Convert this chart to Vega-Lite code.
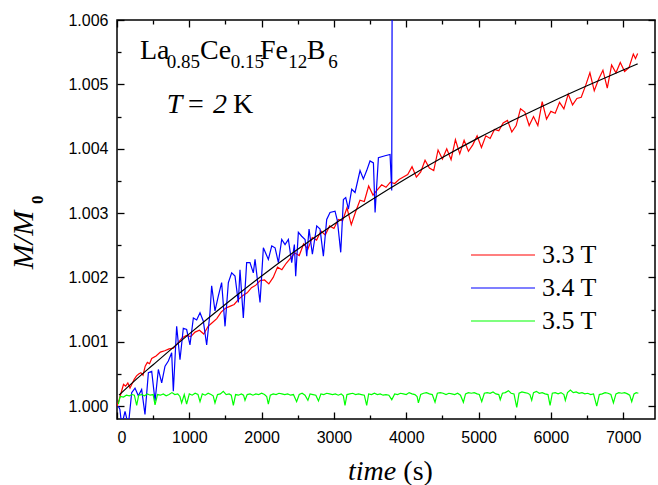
{
  "$schema": "https://vega.github.io/schema/vega-lite/v6.json",
  "width": 538,
  "height": 399,
  "autosize": {"type": "none"},
  "padding": {"left": 117, "top": 20, "right": 3, "bottom": 66},
  "background": "white",
  "config": {
    "view": {"stroke": "black", "strokeWidth": 1.5},
    "axis": {"domain": false, "grid": false}
  },
  "datasets": {
    "meas": [
      {"t":0,"M":1.00000,"s":"3.3 T"},{"t":30,"M":1.00010,"s":"3.3 T"},{"t":60,"M":1.00022,"s":"3.3 T"},{"t":90,"M":1.00034,"s":"3.3 T"},{"t":120,"M":1.00031,"s":"3.3 T"},{"t":150,"M":1.00036,"s":"3.3 T"},{"t":180,"M":1.00028,"s":"3.3 T"},{"t":210,"M":1.00035,"s":"3.3 T"},{"t":240,"M":1.00042,"s":"3.3 T"},{"t":270,"M":1.00047,"s":"3.3 T"},{"t":300,"M":1.00050,"s":"3.3 T"},{"t":330,"M":1.00052,"s":"3.3 T"},{"t":360,"M":1.00048,"s":"3.3 T"},{"t":390,"M":1.00062,"s":"3.3 T"},{"t":420,"M":1.00068,"s":"3.3 T"},{"t":450,"M":1.00066,"s":"3.3 T"},{"t":480,"M":1.00074,"s":"3.3 T"},{"t":540,"M":1.00078,"s":"3.3 T"},{"t":600,"M":1.00084,"s":"3.3 T"},{"t":660,"M":1.00086,"s":"3.3 T"},{"t":720,"M":1.00089,"s":"3.3 T"},{"t":780,"M":1.00090,"s":"3.3 T"},{"t":840,"M":1.00098,"s":"3.3 T"},{"t":900,"M":1.00106,"s":"3.3 T"},{"t":960,"M":1.00110,"s":"3.3 T"},{"t":1020,"M":1.00108,"s":"3.3 T"},{"t":1080,"M":1.00115,"s":"3.3 T"},{"t":1140,"M":1.00118,"s":"3.3 T"},{"t":1200,"M":1.00112,"s":"3.3 T"},{"t":1260,"M":1.00124,"s":"3.3 T"},{"t":1320,"M":1.00130,"s":"3.3 T"},{"t":1380,"M":1.00136,"s":"3.3 T"},{"t":1440,"M":1.00146,"s":"3.3 T"},{"t":1500,"M":1.00152,"s":"3.3 T"},{"t":1560,"M":1.00155,"s":"3.3 T"},{"t":1620,"M":1.00158,"s":"3.3 T"},{"t":1680,"M":1.00166,"s":"3.3 T"},{"t":1740,"M":1.00172,"s":"3.3 T"},{"t":1800,"M":1.00176,"s":"3.3 T"},{"t":1860,"M":1.00184,"s":"3.3 T"},{"t":1920,"M":1.00188,"s":"3.3 T"},{"t":1980,"M":1.00195,"s":"3.3 T"},{"t":2040,"M":1.00196,"s":"3.3 T"},{"t":2100,"M":1.00190,"s":"3.3 T"},{"t":2160,"M":1.00200,"s":"3.3 T"},{"t":2220,"M":1.00216,"s":"3.3 T"},{"t":2280,"M":1.00212,"s":"3.3 T"},{"t":2340,"M":1.00222,"s":"3.3 T"},{"t":2400,"M":1.00230,"s":"3.3 T"},{"t":2460,"M":1.00238,"s":"3.3 T"},{"t":2520,"M":1.00234,"s":"3.3 T"},{"t":2580,"M":1.00252,"s":"3.3 T"},{"t":2640,"M":1.00244,"s":"3.3 T"},{"t":2700,"M":1.00262,"s":"3.3 T"},{"t":2760,"M":1.00258,"s":"3.3 T"},{"t":2820,"M":1.00272,"s":"3.3 T"},{"t":2880,"M":1.00266,"s":"3.3 T"},{"t":2940,"M":1.00280,"s":"3.3 T"},{"t":3000,"M":1.00276,"s":"3.3 T"},{"t":3060,"M":1.00290,"s":"3.3 T"},{"t":3120,"M":1.00288,"s":"3.3 T"},{"t":3180,"M":1.00308,"s":"3.3 T"},{"t":3240,"M":1.00282,"s":"3.3 T"},{"t":3300,"M":1.00302,"s":"3.3 T"},{"t":3360,"M":1.00320,"s":"3.3 T"},{"t":3420,"M":1.00318,"s":"3.3 T"},{"t":3480,"M":1.00342,"s":"3.3 T"},{"t":3540,"M":1.00328,"s":"3.3 T"},{"t":3600,"M":1.00336,"s":"3.3 T"},{"t":3660,"M":1.00344,"s":"3.3 T"},{"t":3720,"M":1.00340,"s":"3.3 T"},{"t":3780,"M":1.00348,"s":"3.3 T"},{"t":3840,"M":1.00346,"s":"3.3 T"},{"t":3900,"M":1.00352,"s":"3.3 T"},{"t":3960,"M":1.00356,"s":"3.3 T"},{"t":4020,"M":1.00360,"s":"3.3 T"},{"t":4080,"M":1.00372,"s":"3.3 T"},{"t":4140,"M":1.00356,"s":"3.3 T"},{"t":4200,"M":1.00364,"s":"3.3 T"},{"t":4260,"M":1.00382,"s":"3.3 T"},{"t":4320,"M":1.00370,"s":"3.3 T"},{"t":4380,"M":1.00366,"s":"3.3 T"},{"t":4440,"M":1.00398,"s":"3.3 T"},{"t":4500,"M":1.00384,"s":"3.3 T"},{"t":4560,"M":1.00400,"s":"3.3 T"},{"t":4620,"M":1.00383,"s":"3.3 T"},{"t":4680,"M":1.00414,"s":"3.3 T"},{"t":4740,"M":1.00392,"s":"3.3 T"},{"t":4800,"M":1.00413,"s":"3.3 T"},{"t":4860,"M":1.00396,"s":"3.3 T"},{"t":4920,"M":1.00406,"s":"3.3 T"},{"t":4980,"M":1.00420,"s":"3.3 T"},{"t":5040,"M":1.00402,"s":"3.3 T"},{"t":5100,"M":1.00420,"s":"3.3 T"},{"t":5160,"M":1.00416,"s":"3.3 T"},{"t":5220,"M":1.00430,"s":"3.3 T"},{"t":5280,"M":1.00428,"s":"3.3 T"},{"t":5340,"M":1.00440,"s":"3.3 T"},{"t":5400,"M":1.00444,"s":"3.3 T"},{"t":5460,"M":1.00426,"s":"3.3 T"},{"t":5520,"M":1.00436,"s":"3.3 T"},{"t":5580,"M":1.00462,"s":"3.3 T"},{"t":5640,"M":1.00457,"s":"3.3 T"},{"t":5700,"M":1.00436,"s":"3.3 T"},{"t":5760,"M":1.00450,"s":"3.3 T"},{"t":5820,"M":1.00436,"s":"3.3 T"},{"t":5880,"M":1.00473,"s":"3.3 T"},{"t":5940,"M":1.00446,"s":"3.3 T"},{"t":6000,"M":1.00458,"s":"3.3 T"},{"t":6060,"M":1.00455,"s":"3.3 T"},{"t":6120,"M":1.00472,"s":"3.3 T"},{"t":6180,"M":1.00462,"s":"3.3 T"},{"t":6240,"M":1.00485,"s":"3.3 T"},{"t":6300,"M":1.00468,"s":"3.3 T"},{"t":6360,"M":1.00478,"s":"3.3 T"},{"t":6420,"M":1.00480,"s":"3.3 T"},{"t":6480,"M":1.00498,"s":"3.3 T"},{"t":6540,"M":1.00518,"s":"3.3 T"},{"t":6600,"M":1.00490,"s":"3.3 T"},{"t":6660,"M":1.00508,"s":"3.3 T"},{"t":6720,"M":1.00522,"s":"3.3 T"},{"t":6780,"M":1.00494,"s":"3.3 T"},{"t":6840,"M":1.00530,"s":"3.3 T"},{"t":6900,"M":1.00518,"s":"3.3 T"},{"t":6960,"M":1.00534,"s":"3.3 T"},{"t":7020,"M":1.00520,"s":"3.3 T"},{"t":7080,"M":1.00526,"s":"3.3 T"},{"t":7140,"M":1.00547,"s":"3.3 T"},{"t":7170,"M":1.00540,"s":"3.3 T"},{"t":7200,"M":1.00548,"s":"3.3 T"},
      {"t":18,"M":1.00000,"s":"3.4 T"},{"t":40,"M":0.99995,"s":"3.4 T"},{"t":65,"M":0.99970,"s":"3.4 T"},{"t":111,"M":0.99992,"s":"3.4 T"},{"t":157,"M":0.99970,"s":"3.4 T"},{"t":203,"M":1.00021,"s":"3.4 T"},{"t":249,"M":1.00028,"s":"3.4 T"},{"t":295,"M":1.00016,"s":"3.4 T"},{"t":341,"M":1.00026,"s":"3.4 T"},{"t":387,"M":0.99987,"s":"3.4 T"},{"t":434,"M":1.00052,"s":"3.4 T"},{"t":480,"M":1.00054,"s":"3.4 T"},{"t":526,"M":1.00008,"s":"3.4 T"},{"t":572,"M":1.00057,"s":"3.4 T"},{"t":618,"M":1.00036,"s":"3.4 T"},{"t":664,"M":1.00062,"s":"3.4 T"},{"t":710,"M":1.00070,"s":"3.4 T"},{"t":756,"M":1.00083,"s":"3.4 T"},{"t":779,"M":1.00023,"s":"3.4 T"},{"t":825,"M":1.00124,"s":"3.4 T"},{"t":871,"M":1.00072,"s":"3.4 T"},{"t":917,"M":1.00121,"s":"3.4 T"},{"t":963,"M":1.00119,"s":"3.4 T"},{"t":1009,"M":1.00095,"s":"3.4 T"},{"t":1056,"M":1.00137,"s":"3.4 T"},{"t":1102,"M":1.00134,"s":"3.4 T"},{"t":1148,"M":1.00145,"s":"3.4 T"},{"t":1194,"M":1.00132,"s":"3.4 T"},{"t":1240,"M":1.00095,"s":"3.4 T"},{"t":1286,"M":1.00145,"s":"3.4 T"},{"t":1309,"M":1.00187,"s":"3.4 T"},{"t":1355,"M":1.00148,"s":"3.4 T"},{"t":1401,"M":1.00171,"s":"3.4 T"},{"t":1447,"M":1.00192,"s":"3.4 T"},{"t":1494,"M":1.00124,"s":"3.4 T"},{"t":1540,"M":1.00192,"s":"3.4 T"},{"t":1586,"M":1.00207,"s":"3.4 T"},{"t":1632,"M":1.00202,"s":"3.4 T"},{"t":1678,"M":1.00161,"s":"3.4 T"},{"t":1701,"M":1.00212,"s":"3.4 T"},{"t":1747,"M":1.00137,"s":"3.4 T"},{"t":1793,"M":1.00223,"s":"3.4 T"},{"t":1839,"M":1.00223,"s":"3.4 T"},{"t":1885,"M":1.00207,"s":"3.4 T"},{"t":1909,"M":1.00228,"s":"3.4 T"},{"t":1978,"M":1.00161,"s":"3.4 T"},{"t":2024,"M":1.00246,"s":"3.4 T"},{"t":2093,"M":1.00228,"s":"3.4 T"},{"t":2140,"M":1.00249,"s":"3.4 T"},{"t":2186,"M":1.00246,"s":"3.4 T"},{"t":2232,"M":1.00223,"s":"3.4 T"},{"t":2278,"M":1.00259,"s":"3.4 T"},{"t":2324,"M":1.00251,"s":"3.4 T"},{"t":2370,"M":1.00259,"s":"3.4 T"},{"t":2416,"M":1.00223,"s":"3.4 T"},{"t":2453,"M":1.00251,"s":"3.4 T"},{"t":2471,"M":1.00202,"s":"3.4 T"},{"t":2508,"M":1.00270,"s":"3.4 T"},{"t":2554,"M":1.00264,"s":"3.4 T"},{"t":2601,"M":1.00259,"s":"3.4 T"},{"t":2624,"M":1.00233,"s":"3.4 T"},{"t":2656,"M":1.00275,"s":"3.4 T"},{"t":2702,"M":1.00236,"s":"3.4 T"},{"t":2762,"M":1.00280,"s":"3.4 T"},{"t":2808,"M":1.00275,"s":"3.4 T"},{"t":2854,"M":1.00233,"s":"3.4 T"},{"t":2900,"M":1.00290,"s":"3.4 T"},{"t":2946,"M":1.00301,"s":"3.4 T"},{"t":3015,"M":1.00303,"s":"3.4 T"},{"t":3048,"M":1.00288,"s":"3.4 T"},{"t":3094,"M":1.00239,"s":"3.4 T"},{"t":3131,"M":1.00321,"s":"3.4 T"},{"t":3163,"M":1.00324,"s":"3.4 T"},{"t":3200,"M":1.00306,"s":"3.4 T"},{"t":3246,"M":1.00337,"s":"3.4 T"},{"t":3292,"M":1.00332,"s":"3.4 T"},{"t":3361,"M":1.00366,"s":"3.4 T"},{"t":3407,"M":1.00353,"s":"3.4 T"},{"t":3453,"M":1.00366,"s":"3.4 T"},{"t":3499,"M":1.00381,"s":"3.4 T"},{"t":3546,"M":1.00378,"s":"3.4 T"},{"t":3569,"M":1.00301,"s":"3.4 T"},{"t":3615,"M":1.00386,"s":"3.4 T"},{"t":3707,"M":1.00389,"s":"3.4 T"},{"t":3776,"M":1.00391,"s":"3.4 T"},{"t":3799,"M":1.00335,"s":"3.4 T"},{"t":3808,"M":1.00800,"s":"3.4 T"},
      {"t":18,"M":1.00003,"s":"3.5 T"},{"t":45,"M":1.00015,"s":"3.5 T"},{"t":90,"M":1.00014,"s":"3.5 T"},{"t":130,"M":1.00017,"s":"3.5 T"},{"t":170,"M":1.00016,"s":"3.5 T"},{"t":210,"M":1.00018,"s":"3.5 T"},{"t":240,"M":1.00017,"s":"3.5 T"},{"t":272,"M":1.00001,"s":"3.5 T"},{"t":300,"M":1.00017,"s":"3.5 T"},{"t":340,"M":1.00018,"s":"3.5 T"},{"t":380,"M":1.00016,"s":"3.5 T"},{"t":420,"M":1.00019,"s":"3.5 T"},{"t":460,"M":1.00017,"s":"3.5 T"},{"t":500,"M":1.00018,"s":"3.5 T"},{"t":526,"M":1.00002,"s":"3.5 T"},{"t":560,"M":1.00018,"s":"3.5 T"},{"t":600,"M":1.00017,"s":"3.5 T"},{"t":640,"M":1.00019,"s":"3.5 T"},{"t":680,"M":1.00016,"s":"3.5 T"},{"t":720,"M":1.00018,"s":"3.5 T"},{"t":760,"M":1.00021,"s":"3.5 T"},{"t":800,"M":1.00018,"s":"3.5 T"},{"t":840,"M":1.00019,"s":"3.5 T"},{"t":870,"M":1.00015,"s":"3.5 T"},{"t":894,"M":1.00005,"s":"3.5 T"},{"t":930,"M":1.00018,"s":"3.5 T"},{"t":963,"M":1.00003,"s":"3.5 T"},{"t":1000,"M":1.00019,"s":"3.5 T"},{"t":1040,"M":1.00017,"s":"3.5 T"},{"t":1080,"M":1.00020,"s":"3.5 T"},{"t":1120,"M":1.00018,"s":"3.5 T"},{"t":1148,"M":1.00007,"s":"3.5 T"},{"t":1180,"M":1.00019,"s":"3.5 T"},{"t":1220,"M":1.00017,"s":"3.5 T"},{"t":1260,"M":1.00020,"s":"3.5 T"},{"t":1300,"M":1.00018,"s":"3.5 T"},{"t":1330,"M":1.00016,"s":"3.5 T"},{"t":1355,"M":1.00005,"s":"3.5 T"},{"t":1390,"M":1.00018,"s":"3.5 T"},{"t":1430,"M":1.00019,"s":"3.5 T"},{"t":1470,"M":1.00023,"s":"3.5 T"},{"t":1510,"M":1.00018,"s":"3.5 T"},{"t":1550,"M":1.00019,"s":"3.5 T"},{"t":1580,"M":1.00017,"s":"3.5 T"},{"t":1609,"M":1.00001,"s":"3.5 T"},{"t":1640,"M":1.00018,"s":"3.5 T"},{"t":1680,"M":1.00017,"s":"3.5 T"},{"t":1720,"M":1.00019,"s":"3.5 T"},{"t":1750,"M":1.00017,"s":"3.5 T"},{"t":1770,"M":1.00009,"s":"3.5 T"},{"t":1800,"M":1.00018,"s":"3.5 T"},{"t":1840,"M":1.00019,"s":"3.5 T"},{"t":1880,"M":1.00017,"s":"3.5 T"},{"t":1920,"M":1.00019,"s":"3.5 T"},{"t":1960,"M":1.00018,"s":"3.5 T"},{"t":2000,"M":1.00020,"s":"3.5 T"},{"t":2040,"M":1.00018,"s":"3.5 T"},{"t":2070,"M":1.00015,"s":"3.5 T"},{"t":2093,"M":1.00003,"s":"3.5 T"},{"t":2120,"M":1.00017,"s":"3.5 T"},{"t":2160,"M":1.00019,"s":"3.5 T"},{"t":2200,"M":1.00018,"s":"3.5 T"},{"t":2240,"M":1.00020,"s":"3.5 T"},{"t":2280,"M":1.00019,"s":"3.5 T"},{"t":2320,"M":1.00018,"s":"3.5 T"},{"t":2360,"M":1.00019,"s":"3.5 T"},{"t":2400,"M":1.00017,"s":"3.5 T"},{"t":2440,"M":1.00018,"s":"3.5 T"},{"t":2484,"M":1.00007,"s":"3.5 T"},{"t":2520,"M":1.00018,"s":"3.5 T"},{"t":2560,"M":1.00020,"s":"3.5 T"},{"t":2600,"M":1.00017,"s":"3.5 T"},{"t":2640,"M":1.00009,"s":"3.5 T"},{"t":2670,"M":1.00019,"s":"3.5 T"},{"t":2710,"M":1.00018,"s":"3.5 T"},{"t":2750,"M":1.00017,"s":"3.5 T"},{"t":2786,"M":1.00008,"s":"3.5 T"},{"t":2820,"M":1.00019,"s":"3.5 T"},{"t":2860,"M":1.00018,"s":"3.5 T"},{"t":2900,"M":1.00020,"s":"3.5 T"},{"t":2940,"M":1.00019,"s":"3.5 T"},{"t":2980,"M":1.00018,"s":"3.5 T"},{"t":3020,"M":1.00019,"s":"3.5 T"},{"t":3060,"M":1.00017,"s":"3.5 T"},{"t":3100,"M":1.00019,"s":"3.5 T"},{"t":3130,"M":1.00016,"s":"3.5 T"},{"t":3153,"M":1.00001,"s":"3.5 T"},{"t":3180,"M":1.00018,"s":"3.5 T"},{"t":3220,"M":1.00019,"s":"3.5 T"},{"t":3260,"M":1.00020,"s":"3.5 T"},{"t":3300,"M":1.00018,"s":"3.5 T"},{"t":3340,"M":1.00019,"s":"3.5 T"},{"t":3380,"M":1.00018,"s":"3.5 T"},{"t":3420,"M":1.00017,"s":"3.5 T"},{"t":3453,"M":1.00001,"s":"3.5 T"},{"t":3480,"M":1.00019,"s":"3.5 T"},{"t":3520,"M":1.00018,"s":"3.5 T"},{"t":3560,"M":1.00020,"s":"3.5 T"},{"t":3600,"M":1.00018,"s":"3.5 T"},{"t":3640,"M":1.00019,"s":"3.5 T"},{"t":3680,"M":1.00017,"s":"3.5 T"},{"t":3720,"M":1.00018,"s":"3.5 T"},{"t":3760,"M":1.00017,"s":"3.5 T"},{"t":3800,"M":1.00010,"s":"3.5 T"},{"t":3840,"M":1.00019,"s":"3.5 T"},{"t":3880,"M":1.00018,"s":"3.5 T"},{"t":3920,"M":1.00020,"s":"3.5 T"},{"t":3960,"M":1.00019,"s":"3.5 T"},{"t":4000,"M":1.00018,"s":"3.5 T"},{"t":4040,"M":1.00021,"s":"3.5 T"},{"t":4080,"M":1.00019,"s":"3.5 T"},{"t":4120,"M":1.00018,"s":"3.5 T"},{"t":4150,"M":1.00015,"s":"3.5 T"},{"t":4168,"M":1.00005,"s":"3.5 T"},{"t":4200,"M":1.00018,"s":"3.5 T"},{"t":4240,"M":1.00020,"s":"3.5 T"},{"t":4280,"M":1.00021,"s":"3.5 T"},{"t":4320,"M":1.00019,"s":"3.5 T"},{"t":4360,"M":1.00018,"s":"3.5 T"},{"t":4398,"M":1.00006,"s":"3.5 T"},{"t":4430,"M":1.00020,"s":"3.5 T"},{"t":4470,"M":1.00021,"s":"3.5 T"},{"t":4510,"M":1.00020,"s":"3.5 T"},{"t":4550,"M":1.00018,"s":"3.5 T"},{"t":4590,"M":1.00020,"s":"3.5 T"},{"t":4630,"M":1.00019,"s":"3.5 T"},{"t":4670,"M":1.00018,"s":"3.5 T"},{"t":4710,"M":1.00020,"s":"3.5 T"},{"t":4750,"M":1.00017,"s":"3.5 T"},{"t":4790,"M":1.00006,"s":"3.5 T"},{"t":4820,"M":1.00019,"s":"3.5 T"},{"t":4860,"M":1.00021,"s":"3.5 T"},{"t":4900,"M":1.00020,"s":"3.5 T"},{"t":4940,"M":1.00021,"s":"3.5 T"},{"t":4980,"M":1.00019,"s":"3.5 T"},{"t":5010,"M":1.00018,"s":"3.5 T"},{"t":5044,"M":1.00007,"s":"3.5 T"},{"t":5080,"M":1.00020,"s":"3.5 T"},{"t":5120,"M":1.00021,"s":"3.5 T"},{"t":5160,"M":1.00020,"s":"3.5 T"},{"t":5200,"M":1.00022,"s":"3.5 T"},{"t":5240,"M":1.00019,"s":"3.5 T"},{"t":5280,"M":1.00018,"s":"3.5 T"},{"t":5300,"M":1.00010,"s":"3.5 T"},{"t":5330,"M":1.00020,"s":"3.5 T"},{"t":5370,"M":1.00021,"s":"3.5 T"},{"t":5413,"M":1.00024,"s":"3.5 T"},{"t":5450,"M":1.00020,"s":"3.5 T"},{"t":5490,"M":1.00019,"s":"3.5 T"},{"t":5528,"M":0.99998,"s":"3.5 T"},{"t":5560,"M":1.00020,"s":"3.5 T"},{"t":5600,"M":1.00022,"s":"3.5 T"},{"t":5640,"M":1.00021,"s":"3.5 T"},{"t":5680,"M":1.00020,"s":"3.5 T"},{"t":5710,"M":1.00018,"s":"3.5 T"},{"t":5735,"M":1.00009,"s":"3.5 T"},{"t":5760,"M":1.00021,"s":"3.5 T"},{"t":5800,"M":1.00023,"s":"3.5 T"},{"t":5840,"M":1.00020,"s":"3.5 T"},{"t":5880,"M":1.00021,"s":"3.5 T"},{"t":5920,"M":1.00019,"s":"3.5 T"},{"t":5960,"M":1.00018,"s":"3.5 T"},{"t":5989,"M":1.00001,"s":"3.5 T"},{"t":6020,"M":1.00020,"s":"3.5 T"},{"t":6060,"M":1.00021,"s":"3.5 T"},{"t":6100,"M":1.00019,"s":"3.5 T"},{"t":6140,"M":1.00021,"s":"3.5 T"},{"t":6180,"M":1.00018,"s":"3.5 T"},{"t":6200,"M":1.00009,"s":"3.5 T"},{"t":6230,"M":1.00021,"s":"3.5 T"},{"t":6270,"M":1.00025,"s":"3.5 T"},{"t":6310,"M":1.00021,"s":"3.5 T"},{"t":6350,"M":1.00022,"s":"3.5 T"},{"t":6390,"M":1.00020,"s":"3.5 T"},{"t":6430,"M":1.00021,"s":"3.5 T"},{"t":6470,"M":1.00019,"s":"3.5 T"},{"t":6510,"M":1.00020,"s":"3.5 T"},{"t":6550,"M":1.00018,"s":"3.5 T"},{"t":6590,"M":1.00019,"s":"3.5 T"},{"t":6634,"M":1.00000,"s":"3.5 T"},{"t":6670,"M":1.00018,"s":"3.5 T"},{"t":6710,"M":1.00019,"s":"3.5 T"},{"t":6750,"M":1.00021,"s":"3.5 T"},{"t":6790,"M":1.00020,"s":"3.5 T"},{"t":6830,"M":1.00018,"s":"3.5 T"},{"t":6865,"M":1.00005,"s":"3.5 T"},{"t":6900,"M":1.00019,"s":"3.5 T"},{"t":6940,"M":1.00021,"s":"3.5 T"},{"t":6980,"M":1.00020,"s":"3.5 T"},{"t":7020,"M":1.00021,"s":"3.5 T"},{"t":7060,"M":1.00019,"s":"3.5 T"},{"t":7090,"M":1.00017,"s":"3.5 T"},{"t":7118,"M":1.00007,"s":"3.5 T"},{"t":7150,"M":1.00019,"s":"3.5 T"},{"t":7180,"M":1.00021,"s":"3.5 T"},{"t":7210,"M":1.00020,"s":"3.5 T"}
    ],
    "fit": [
      {"t":28,"M":1.000171},{"t":250,"M":1.000400},{"t":500,"M":1.000643},{"t":1000,"M":1.001123},{"t":1500,"M":1.001583},{"t":2000,"M":1.002023},{"t":2500,"M":1.002438},{"t":3000,"M":1.002828},{"t":3500,"M":1.003193},{"t":4000,"M":1.003538},{"t":4500,"M":1.003863},{"t":5000,"M":1.004168},{"t":5500,"M":1.004453},{"t":6000,"M":1.004723},{"t":6500,"M":1.004978},{"t":7000,"M":1.005223},{"t":7200,"M":1.005319}
    ]
  },
  "layer": [
    {
      "data": {"name": "meas"},
      "mark": {"type": "line", "clip": true, "strokeWidth": 1.2},
      "encoding": {
        "x": {"field": "t", "type": "quantitative",
          "scale": {"domain": [0, 7440], "nice": false, "zero": false},
          "axis": {"orient": "bottom", "title": null,
            "values": [0,500,1000,1500,2000,2500,3000,3500,4000,4500,5000,5500,6000,6500,7000],
            "format": "d",
            "labelExpr": "datum.value % 1000 === 0 ? datum.label : ''",
            "labelOverlap": false,
            "labelFont": "Liberation Sans", "labelFontSize": 16, "labelColor": "black",
            "labelPadding": 17,
            "tickColor": "black", "tickWidth": 1.3,
            "tickSize": {"condition": {"test": "datum.value % 1000 === 0", "value": -7}, "value": -4}
          }
        },
        "y": {"field": "M", "type": "quantitative",
          "scale": {"domain": [0.9998, 1.006], "nice": false, "zero": false},
          "axis": {"orient": "left", "title": null,
            "values": [1.000,1.0005,1.001,1.0015,1.002,1.0025,1.003,1.0035,1.004,1.0045,1.005,1.0055,1.006],
            "format": ".3f",
            "labelExpr": "abs(round(datum.value*1000) - datum.value*1000) < 0.001 ? datum.label : ''",
            "labelOverlap": false,
            "labelFont": "Liberation Sans", "labelFontSize": 16, "labelColor": "black",
            "labelPadding": 16,
            "tickColor": "black", "tickWidth": 1.3,
            "tickSize": {"condition": {"test": "abs(round(datum.value*1000) - datum.value*1000) < 0.001", "value": -7}, "value": -4}
          }
        },
        "color": {"field": "s", "type": "nominal",
          "scale": {"domain": ["3.3 T", "3.4 T", "3.5 T"], "range": ["#ff0000", "#0000ff", "#00ff00"]},
          "legend": {"orient": "none", "legendX": 369, "legendY": 218, "title": null,
            "symbolType": "M-2,0H2", "symbolSize": 1024, "symbolStrokeWidth": 1.2,
            "symbolFillColor": "transparent",
            "labelFont": "Liberation Serif", "labelFontSize": 26, "labelColor": "black",
            "labelOffset": 22, "rowPadding": 3, "padding": 0}
        }
      }
    },
    {
      "data": {"name": "fit"},
      "mark": {"type": "line", "clip": true, "color": "black", "strokeWidth": 1.2, "interpolate": "monotone"},
      "encoding": {
        "x": {"field": "t", "type": "quantitative",
          "axis": {"orient": "top", "title": null, "labels": false,
            "values": [0,500,1000,1500,2000,2500,3000,3500,4000,4500,5000,5500,6000,6500,7000],
            "tickColor": "black", "tickWidth": 1.3,
            "tickSize": {"condition": {"test": "datum.value % 1000 === 0", "value": -7}, "value": -4}
          }
        },
        "y": {"field": "M", "type": "quantitative",
          "axis": {"orient": "right", "title": null, "labels": false,
            "values": [1.000,1.0005,1.001,1.0015,1.002,1.0025,1.003,1.0035,1.004,1.0045,1.005,1.0055,1.006],
            "tickColor": "black", "tickWidth": 1.3,
            "tickSize": {"condition": {"test": "abs(round(datum.value*1000) - datum.value*1000) < 0.001", "value": -7}, "value": -4}
          }
        }
      }
    },
    {"data": {"values": [{}]}, "mark": {"type": "text", "align": "left", "baseline": "alphabetic", "font": "Liberation Serif", "fontSize": 28, "color": "black", "text": "La"},
     "encoding": {"x": {"datum": 318, "type": "quantitative", "axis": null}, "y": {"datum": 1.005389, "type": "quantitative", "axis": null}}},
    {"data": {"values": [{}]}, "mark": {"type": "text", "align": "left", "baseline": "alphabetic", "font": "Liberation Serif", "fontSize": 19, "color": "black", "text": "0.85"},
     "encoding": {"x": {"datum": 687, "type": "quantitative", "axis": null}, "y": {"datum": 1.005249, "type": "quantitative", "axis": null}}},
    {"data": {"values": [{}]}, "mark": {"type": "text", "align": "left", "baseline": "alphabetic", "font": "Liberation Serif", "fontSize": 28, "color": "black", "text": "Ce"},
     "encoding": {"x": {"datum": 1148, "type": "quantitative", "axis": null}, "y": {"datum": 1.005389, "type": "quantitative", "axis": null}}},
    {"data": {"values": [{}]}, "mark": {"type": "text", "align": "left", "baseline": "alphabetic", "font": "Liberation Serif", "fontSize": 19, "color": "black", "text": "0.15"},
     "encoding": {"x": {"datum": 1572, "type": "quantitative", "axis": null}, "y": {"datum": 1.005249, "type": "quantitative", "axis": null}}},
    {"data": {"values": [{}]}, "mark": {"type": "text", "align": "left", "baseline": "alphabetic", "font": "Liberation Serif", "fontSize": 28, "color": "black", "text": "Fe"},
     "encoding": {"x": {"datum": 1978, "type": "quantitative", "axis": null}, "y": {"datum": 1.005389, "type": "quantitative", "axis": null}}},
    {"data": {"values": [{}]}, "mark": {"type": "text", "align": "left", "baseline": "alphabetic", "font": "Liberation Serif", "fontSize": 19, "color": "black", "text": "12"},
     "encoding": {"x": {"datum": 2369, "type": "quantitative", "axis": null}, "y": {"datum": 1.005249, "type": "quantitative", "axis": null}}},
    {"data": {"values": [{}]}, "mark": {"type": "text", "align": "left", "baseline": "alphabetic", "font": "Liberation Serif", "fontSize": 28, "color": "black", "text": "B"},
     "encoding": {"x": {"datum": 2623, "type": "quantitative", "axis": null}, "y": {"datum": 1.005389, "type": "quantitative", "axis": null}}},
    {"data": {"values": [{}]}, "mark": {"type": "text", "align": "left", "baseline": "alphabetic", "font": "Liberation Serif", "fontSize": 19, "color": "black", "text": "6"},
     "encoding": {"x": {"datum": 2922, "type": "quantitative", "axis": null}, "y": {"datum": 1.005249, "type": "quantitative", "axis": null}}},
    {"data": {"values": [{}]}, "mark": {"type": "text", "align": "left", "baseline": "alphabetic", "font": "Liberation Serif", "fontSize": 28, "fontStyle": "italic", "color": "black", "text": "T"},
     "encoding": {"x": {"datum": 687, "type": "quantitative", "axis": null}, "y": {"datum": 1.00456, "type": "quantitative", "axis": null}}},
    {"data": {"values": [{}]}, "mark": {"type": "text", "align": "left", "baseline": "alphabetic", "font": "Liberation Serif", "fontSize": 28, "color": "black", "text": "="},
     "encoding": {"x": {"datum": 982, "type": "quantitative", "axis": null}, "y": {"datum": 1.00456, "type": "quantitative", "axis": null}}},
    {"data": {"values": [{}]}, "mark": {"type": "text", "align": "left", "baseline": "alphabetic", "font": "Liberation Serif", "fontSize": 28, "fontStyle": "italic", "color": "black", "text": "2"},
     "encoding": {"x": {"datum": 1328, "type": "quantitative", "axis": null}, "y": {"datum": 1.00456, "type": "quantitative", "axis": null}}},
    {"data": {"values": [{}]}, "mark": {"type": "text", "align": "left", "baseline": "alphabetic", "font": "Liberation Serif", "fontSize": 28, "color": "black", "text": "K"},
     "encoding": {"x": {"datum": 1604, "type": "quantitative", "axis": null}, "y": {"datum": 1.00456, "type": "quantitative", "axis": null}}},
    {"data": {"values": [{}]}, "mark": {"type": "text", "align": "left", "baseline": "alphabetic", "font": "Liberation Serif", "fontSize": 28, "fontStyle": "italic", "color": "black", "text": "time"},
     "encoding": {"x": {"datum": 3194, "type": "quantitative", "axis": null}, "y": {"datum": 0.998852, "type": "quantitative", "axis": null}}},
    {"data": {"values": [{}]}, "mark": {"type": "text", "align": "left", "baseline": "alphabetic", "font": "Liberation Serif", "fontSize": 28, "color": "black", "text": "(s)"},
     "encoding": {"x": {"datum": 3960, "type": "quantitative", "axis": null}, "y": {"datum": 0.998852, "type": "quantitative", "axis": null}}},
    {"data": {"values": [{}]}, "mark": {"type": "text", "align": "center", "baseline": "alphabetic", "angle": 270, "font": "Liberation Serif", "fontSize": 30, "fontStyle": "italic", "color": "black", "text": "M/M"},
     "encoding": {"x": {"datum": -1162, "type": "quantitative", "axis": null}, "y": {"datum": 1.002581, "type": "quantitative", "axis": null}}},
    {"data": {"values": [{}]}, "mark": {"type": "text", "align": "left", "baseline": "alphabetic", "angle": 270, "font": "Liberation Serif", "fontSize": 17, "fontWeight": "bold", "color": "black", "text": "0"},
     "encoding": {"x": {"datum": -1023, "type": "quantitative", "axis": null}, "y": {"datum": 1.003141, "type": "quantitative", "axis": null}}}
  ],
  "resolve": {"axis": {"x": "independent", "y": "independent"}}
}
